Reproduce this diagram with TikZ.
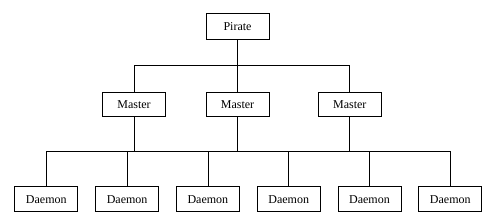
\documentclass[tikz,border=0pt]{standalone}
\usepackage{fontspec}
\setmainfont{Liberation Serif}
\usetikzlibrary{positioning}

\begin{document}
\begin{tikzpicture}[
  x=1pt, y=1pt,
  font=\fontsize{12}{14}\selectfont,
  line width=0.8pt,
  box/.style={draw, minimum width=63pt, minimum height=25pt, inner sep=0pt, fill=white},
  link/.style={draw, line width=0.8pt}
]
\useasboundingbox (0,0) rectangle (491,-222);
\node[box, minimum height=26pt] (pirate) at (237.5,-26.3) {Pirate};
\node[box, minimum height=24pt] (master1) at (134,-104.3) {Master};
\node[box, minimum height=24pt] (master2) at (237.5,-104.3) {Master};
\node[box, minimum height=24pt] (master3) at (349.8,-104.3) {Master};
\node[box] (daemon1) at (46.3,-199.3) {Daemon};
\node[box, right=17pt of daemon1] (daemon2) {Daemon};
\node[box, right=17pt of daemon2] (daemon3) {Daemon};
\node[box, right=17pt of daemon3] (daemon4) {Daemon};
\node[box, right=17pt of daemon4] (daemon5) {Daemon};
\node[box, right=17pt of daemon5] (daemon6) {Daemon};
\coordinate (upbus) at (237.5,-65.7);
\coordinate (lowbus) at (237.5,-151.7);
% pirate to masters
\draw[link] (pirate) -- (upbus);
\draw[link] (master1) |- (upbus) -| (master3);
\draw[link] (master2) -- (upbus);
% masters to daemons
\draw[link] (daemon1) |- (lowbus) -| (daemon6);
\draw[link] (master1) -- (master1 |- lowbus);
\draw[link] (master2) -- (lowbus);
\draw[link] (master3) -- (master3 |- lowbus);
\draw[link] (daemon2) -- (daemon2 |- lowbus);
\draw[link] (daemon3) -- (daemon3 |- lowbus);
\draw[link] (daemon4) -- (daemon4 |- lowbus);
\draw[link] (daemon5) -- (daemon5 |- lowbus);
\end{tikzpicture}
\end{document}
